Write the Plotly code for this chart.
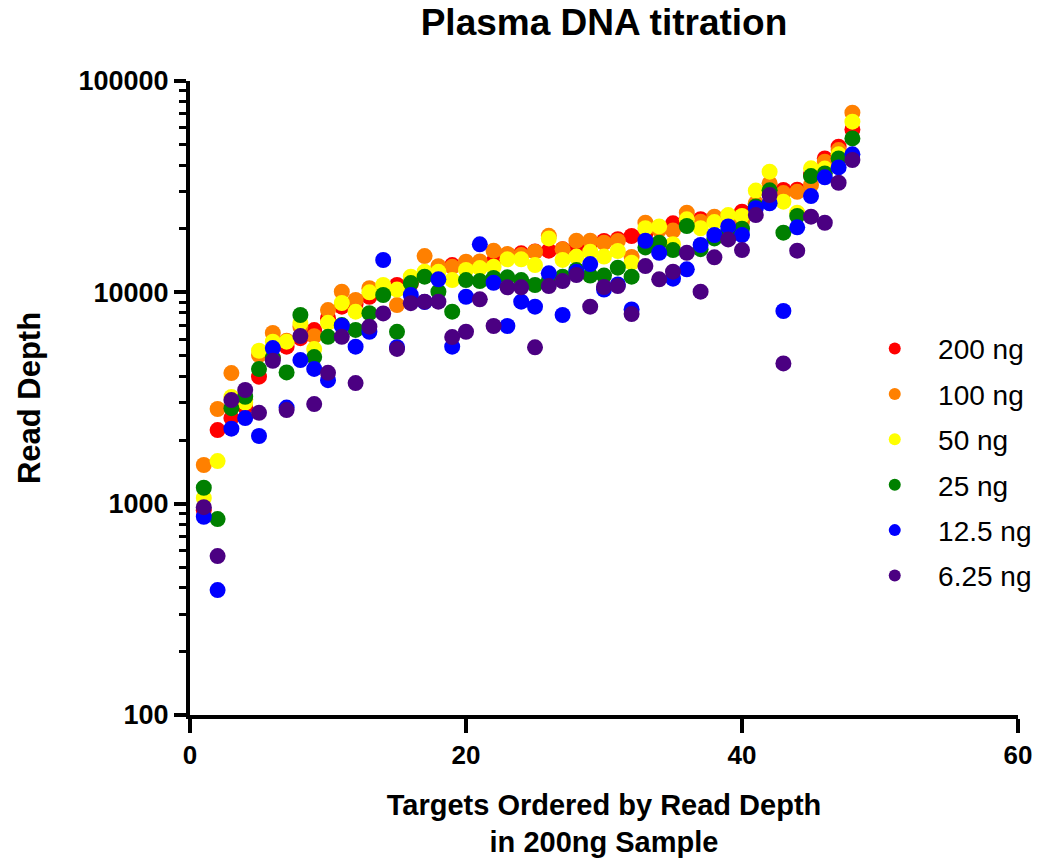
import plotly.graph_objects as go

targets = list(range(1, 49))

series_names = ["200 ng", "100 ng", "50 ng", "25 ng", "12.5 ng", "6.25 ng"]
series_colors = ["#FF0000", "#FF8000", "#FFFF00", "#008000", "#0000FF", "#4B0082"]

ng200 = [930, 2230, 2540, 2865, 3990, 4900, 5530, 6070, 6630, 7550, 8550, 8800,
         9530, 10000, 10830, 11000, 12000, 12800, 13460, 13500, 13800, 14000, 15020, 15290,
         15600, 15740, 16000, 16200, 17000, 17500, 17830, 18470, 19000, 20320, 21200, 22000,
         22200, 22500, 23000, 24080, 26000, 29500, 30500, 30600, 36000, 43000, 48900, 59000]
ng100 = [1524, 2805, 4150, 3100, 5050, 6420, 5900, 6870, 6200, 8240, 10070, 9200,
         10460, 10300, 8700, 11500, 14850, 13300, 13200, 13960, 14000, 15740, 15200, 15000,
         15570, 18500, 15970, 17540, 17540, 17170, 17500, 14700, 21350, 19800, 19600, 23800,
         21600, 22800, 22500, 21600, 26400, 32800, 29500, 29900, 32200, 41500, 47100, 70800]
ng50 = [1064, 1591, 3196, 3005, 5290, 5840, 5840, 7150, 5390, 7180, 8900, 8100,
        10000, 10830, 10300, 11860, 12520, 12500, 11430, 12760, 13030, 13220, 14330, 14330,
        13460, 18000, 14230, 14760, 15570, 14770, 15690, 13810, 20100, 20500, 16900, 22150,
        20100, 21500, 23200, 23000, 30300, 37240, 26850, 23800, 38600, 38500, 45000, 64200]
ng25 = [1189, 845, 2831, 3205, 4335, 4900, 4180, 7810, 4940, 6160, 7000, 6640,
        7970, 9710, 6500, 11060, 11860, 10070, 8100, 11430, 11300, 11700, 11780, 11430,
        10830, 11400, 11860, 12760, 12000, 12000, 13080, 11860, 16320, 17170, 15840, 20600,
        16000, 18000, 19500, 20000, 25500, 30400, 19150, 22980, 35500, 36500, 43000, 53500]
ng12_5 = [867, 390, 2263, 2540, 2090, 5450, 2850, 4780, 4340, 3840, 6950, 5530,
          6510, 14220, 5500, 9710, 9000, 11520, 5530, 9530, 16870, 11100, 6930, 9030,
          8550, 12300, 7810, 12500, 13610, 10300, 10900, 8300, 17540, 15380, 11600, 12850,
          16750, 18670, 20500, 18670, 25000, 26400, 8160, 20300, 28550, 35000, 39000, 45000]
ng6_25 = [963, 565, 3090, 3450, 2690, 4745, 2773, 6210, 2960, 4160, 6160, 3720,
          6880, 7950, 5400, 8890, 9030, 9030, 6140, 6510, 9270, 6930, 10560, 10560,
          5490, 10710, 11300, 12080, 8550, 10600, 10710, 7890, 13310, 11520, 12520, 15380,
          10070, 14650, 17800, 15840, 23200, 28850, 4610, 15740, 22800, 21350, 33000, 42300]

series_values = [ng200, ng100, ng50, ng25, ng12_5, ng6_25]

y_tickvals = [100, 1000, 10000, 100000]
y_ticktext = ["100", "1000", "10000", "100000"]
x_tickvals = [0, 20, 40, 60]

FONT = "Liberation Sans, Arial, sans-serif"
NB = "\u00a0"

fig = go.Figure()
for name, color, vals in zip(series_names, series_colors, series_values):
    fig.add_trace(go.Scatter(
        x=targets, y=vals, mode="markers", name=NB * 3 + name,
        marker=dict(color=color, size=16, line=dict(width=0)),
        legendgroup=name,
    ))

fig.update_layout(
    width=1049, height=861,
    margin=dict(l=190, r=31, t=81, b=146),
    paper_bgcolor="white", plot_bgcolor="white",
    title=dict(text="<b>Plasma DNA titration</b>", x=0.5, xref="paper", y=0.974, yanchor="middle",
               font=dict(family=FONT, size=37, color="black")),
    showlegend=True,
    legend=dict(x=0.827, y=0.617, xanchor="left", yanchor="top",
                font=dict(family=FONT, size=28, color="black"),
                tracegroupgap=6, bgcolor="rgba(0,0,0,0)", itemsizing="constant"),
    font=dict(family=FONT, color="black"),
)

fig.update_xaxes(
    range=[0, 60], tickvals=x_tickvals, showgrid=False, zeroline=False,
    showline=True, linecolor="black", linewidth=4, automargin=False,
    ticks="outside", ticklen=14, tickwidth=4, tickcolor="black",
    tickfont=dict(family=FONT, size=26, color="black", weight="bold"),
    title=dict(text="Targets Ordered by Read Depth<br>in 200ng Sample", standoff=26,
               font=dict(family=FONT, size=29, color="black", weight="bold")),
)

fig.update_yaxes(
    type="log", range=[2, 5], tickvals=y_tickvals, ticktext=y_ticktext,
    showgrid=False, zeroline=False,
    showline=True, linecolor="black", linewidth=4, automargin=False,
    ticks="outside", ticklen=12, tickwidth=4, tickcolor="black",
    minor=dict(ticks="outside", ticklen=7, tickwidth=3, tickcolor="black", dtick="D1", showgrid=False),
    tickfont=dict(family=FONT, size=27, color="black", weight="bold"),
    title=dict(text="Read Depth", standoff=30,
               font=dict(family=FONT, size=31, color="black", weight="bold")),
)

fig.write_html("out.html")
